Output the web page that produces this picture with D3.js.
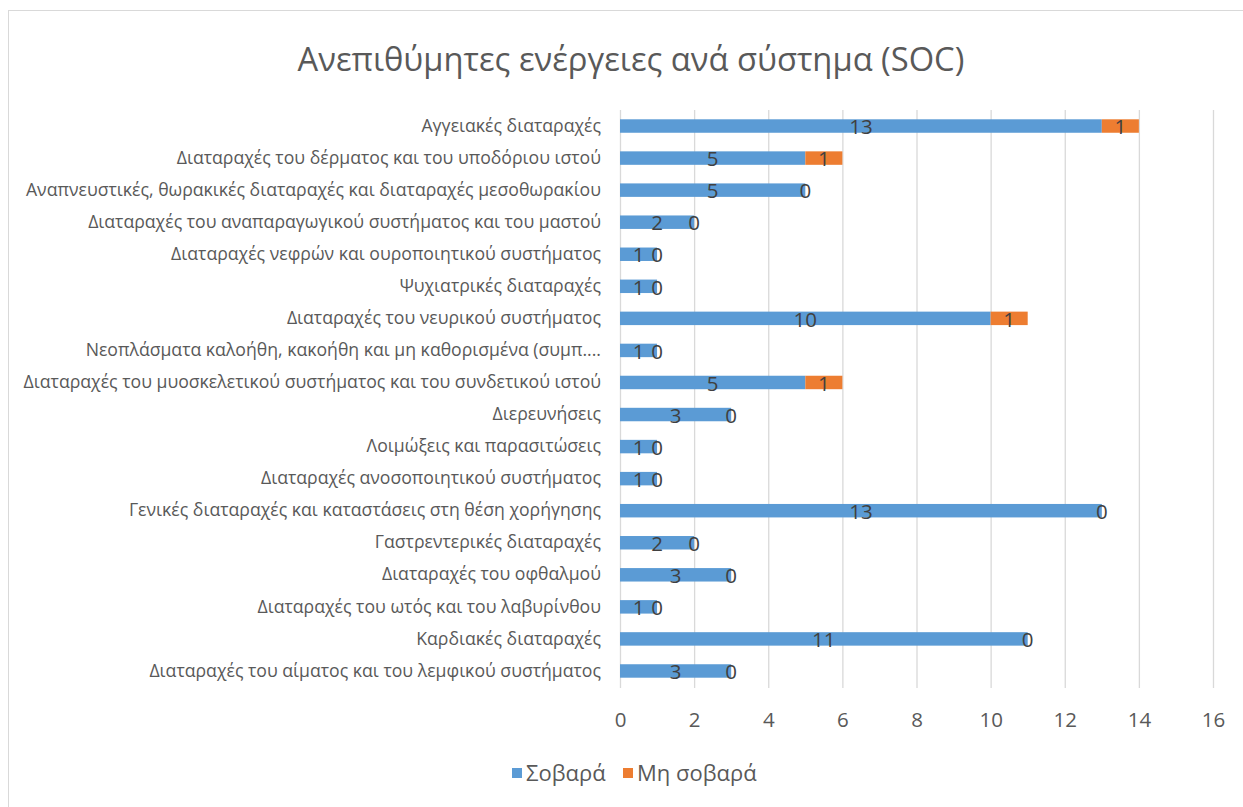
<!DOCTYPE html>
<html>
<head>
<meta charset="utf-8">
<script src="https://cdn.jsdelivr.net/npm/d3@7"></script>
<style>
  html, body { margin: 0; padding: 0; background: #fff; }
  svg { display: block; }
</style>
</head>
<body>
<svg id="chart" width="1243" height="807"></svg>
<script>
const categories = [
  "Αγγειακές διαταραχές",
  "Διαταραχές του δέρματος και του υποδόριου ιστού",
  "Αναπνευστικές, θωρακικές διαταραχές και διαταραχές μεσοθωρακίου",
  "Διαταραχές του αναπαραγωγικού συστήματος και του μαστού",
  "Διαταραχές νεφρών και ουροποιητικού συστήματος",
  "Ψυχιατρικές διαταραχές",
  "Διαταραχές του νευρικού συστήματος",
  "Νεοπλάσματα καλοήθη, κακοήθη και μη καθορισμένα (συμπ....",
  "Διαταραχές του μυοσκελετικού συστήματος και του συνδετικού ιστού",
  "Διερευνήσεις",
  "Λοιμώξεις και παρασιτώσεις",
  "Διαταραχές ανοσοποιητικού συστήματος",
  "Γενικές διαταραχές και καταστάσεις στη θέση χορήγησης ",
  "Γαστρεντερικές διαταραχές",
  "Διαταραχές του οφθαλμού",
  "Διαταραχές του ωτός και του λαβυρίνθου",
  "Καρδιακές διαταραχές",
  "Διαταραχές του αίματος και του λεμφικού συστήματος"
];
const serious    = [13, 5, 5, 2, 1, 1, 10, 1, 5, 3, 1, 1, 13, 2, 3, 1, 11, 3];
const nonSerious = [ 1, 1, 0, 0, 0, 0,  1, 0, 1, 0, 0, 0,  0, 0, 0, 0,  0, 0];
const seriesNames = ["Σοβαρά", "Μη σοβαρά"];
const seriesColors = ["#5B9BD5", "#ED7D31"];
const xTicks = [0, 2, 4, 6, 8, 10, 12, 14, 16];
const title = "Ανεπιθύμητες ενέργειες ανά σύστημα (SOC)";

const FONT = "'Open Sans', 'Noto Sans', sans-serif";
const svg = d3.select("#chart");

// chart area border
svg.append("rect")
  .attr("x", 8.5).attr("y", 10.5)
  .attr("width", 1300).attr("height", 900)
  .attr("fill", "#fff").attr("stroke", "#D9D9D9").attr("stroke-width", 1);

const plot = { left: 620, right: 1213, top: 110, bottom: 687 };

const x = d3.scaleLinear().domain([0, 16]).range([plot.left, plot.right]);
const y = d3.scaleBand().domain(categories).range([plot.top, plot.bottom]).paddingInner(0.58).paddingOuter(0.29);

function fitText(sel, targetWidth, baseSize) {
  const w = sel.node().getComputedTextLength();
  const size = baseSize * targetWidth / w;
  sel.attr("font-size", size);
  return size;
}

// title
const t = svg.append("text")
  .attr("x", 631).attr("y", 58)
  .attr("text-anchor", "middle").attr("dominant-baseline", "central")
  .attr("font-family", FONT).attr("font-size", 28).attr("fill", "#595959")
  .text(title);
fitText(t, 667, 28);

// gridlines
svg.append("g")
  .selectAll("line").data(xTicks).join("line")
  .attr("x1", d => x(d) + 0.5).attr("x2", d => x(d) + 0.5)
  .attr("y1", plot.top).attr("y2", plot.bottom + 1)
  .attr("stroke", "#D9D9D9").attr("stroke-width", 1.3);

// x axis labels
const xAxis = d3.axisBottom(x).tickValues(xTicks).tickSize(0).tickPadding(0);
const gx = svg.append("g").attr("transform", `translate(0, 720)`).call(xAxis);
gx.select(".domain").remove();
gx.selectAll("text")
  .attr("dy", "0.36em").attr("y", 0)
  .attr("font-family", FONT).attr("font-size", 20.5).attr("fill", "#595959");

// y category labels
const yAxis = d3.axisLeft(y).tickSize(0).tickPadding(0);
const gy = svg.append("g").attr("transform", `translate(601, 0)`).call(yAxis);
gy.select(".domain").remove();
gy.selectAll("text")
  .attr("font-family", FONT).attr("font-size", 16).attr("fill", "#595959");
let maxW = 0;
gy.selectAll("text").each(function() { maxW = Math.max(maxW, this.getComputedTextLength()); });
const catSize = 16 * 578 / maxW;
gy.selectAll("text").attr("font-size", catSize);

// stacked data
const rows = categories.map((c, i) => ({ cat: c, s: serious[i], n: nonSerious[i] }));
const stack = d3.stack().keys(["s", "n"])(rows);

const barG = svg.append("g");
stack.forEach((layer, li) => {
  barG.append("g").attr("fill", seriesColors[li])
    .selectAll("rect").data(layer).join("rect")
    .attr("x", d => x(d[0]))
    .attr("y", d => y(d.data.cat))
    .attr("width", d => x(d[1]) - x(d[0]))
    .attr("height", y.bandwidth());
});

// data labels
const labG = svg.append("g")
  .attr("font-family", FONT).attr("font-size", 20.5).attr("fill", "#404040")
  .attr("text-anchor", "middle");
stack.forEach((layer, li) => {
  labG.append("g").selectAll("text").data(layer).join("text")
    .attr("x", d => (x(d[0]) + x(d[1])) / 2)
    .attr("y", d => y(d.data.cat) + y.bandwidth() / 2)
    .attr("dy", "0.4em")
    .text(d => d[1] - d[0]);
});

// legend
const legend = svg.append("g").attr("font-family", FONT).attr("font-size", 22).attr("fill", "#595959");
const legendX = [512, 623];
seriesNames.forEach((name, i) => {
  legend.append("rect")
    .attr("x", legendX[i]).attr("y", 768).attr("width", 10).attr("height", 10)
    .attr("fill", seriesColors[i]);
  legend.append("text")
    .attr("x", legendX[i] + 14).attr("y", 773).attr("dy", "0.36em")
    .text(name);
});
</script>
</body>
</html>
